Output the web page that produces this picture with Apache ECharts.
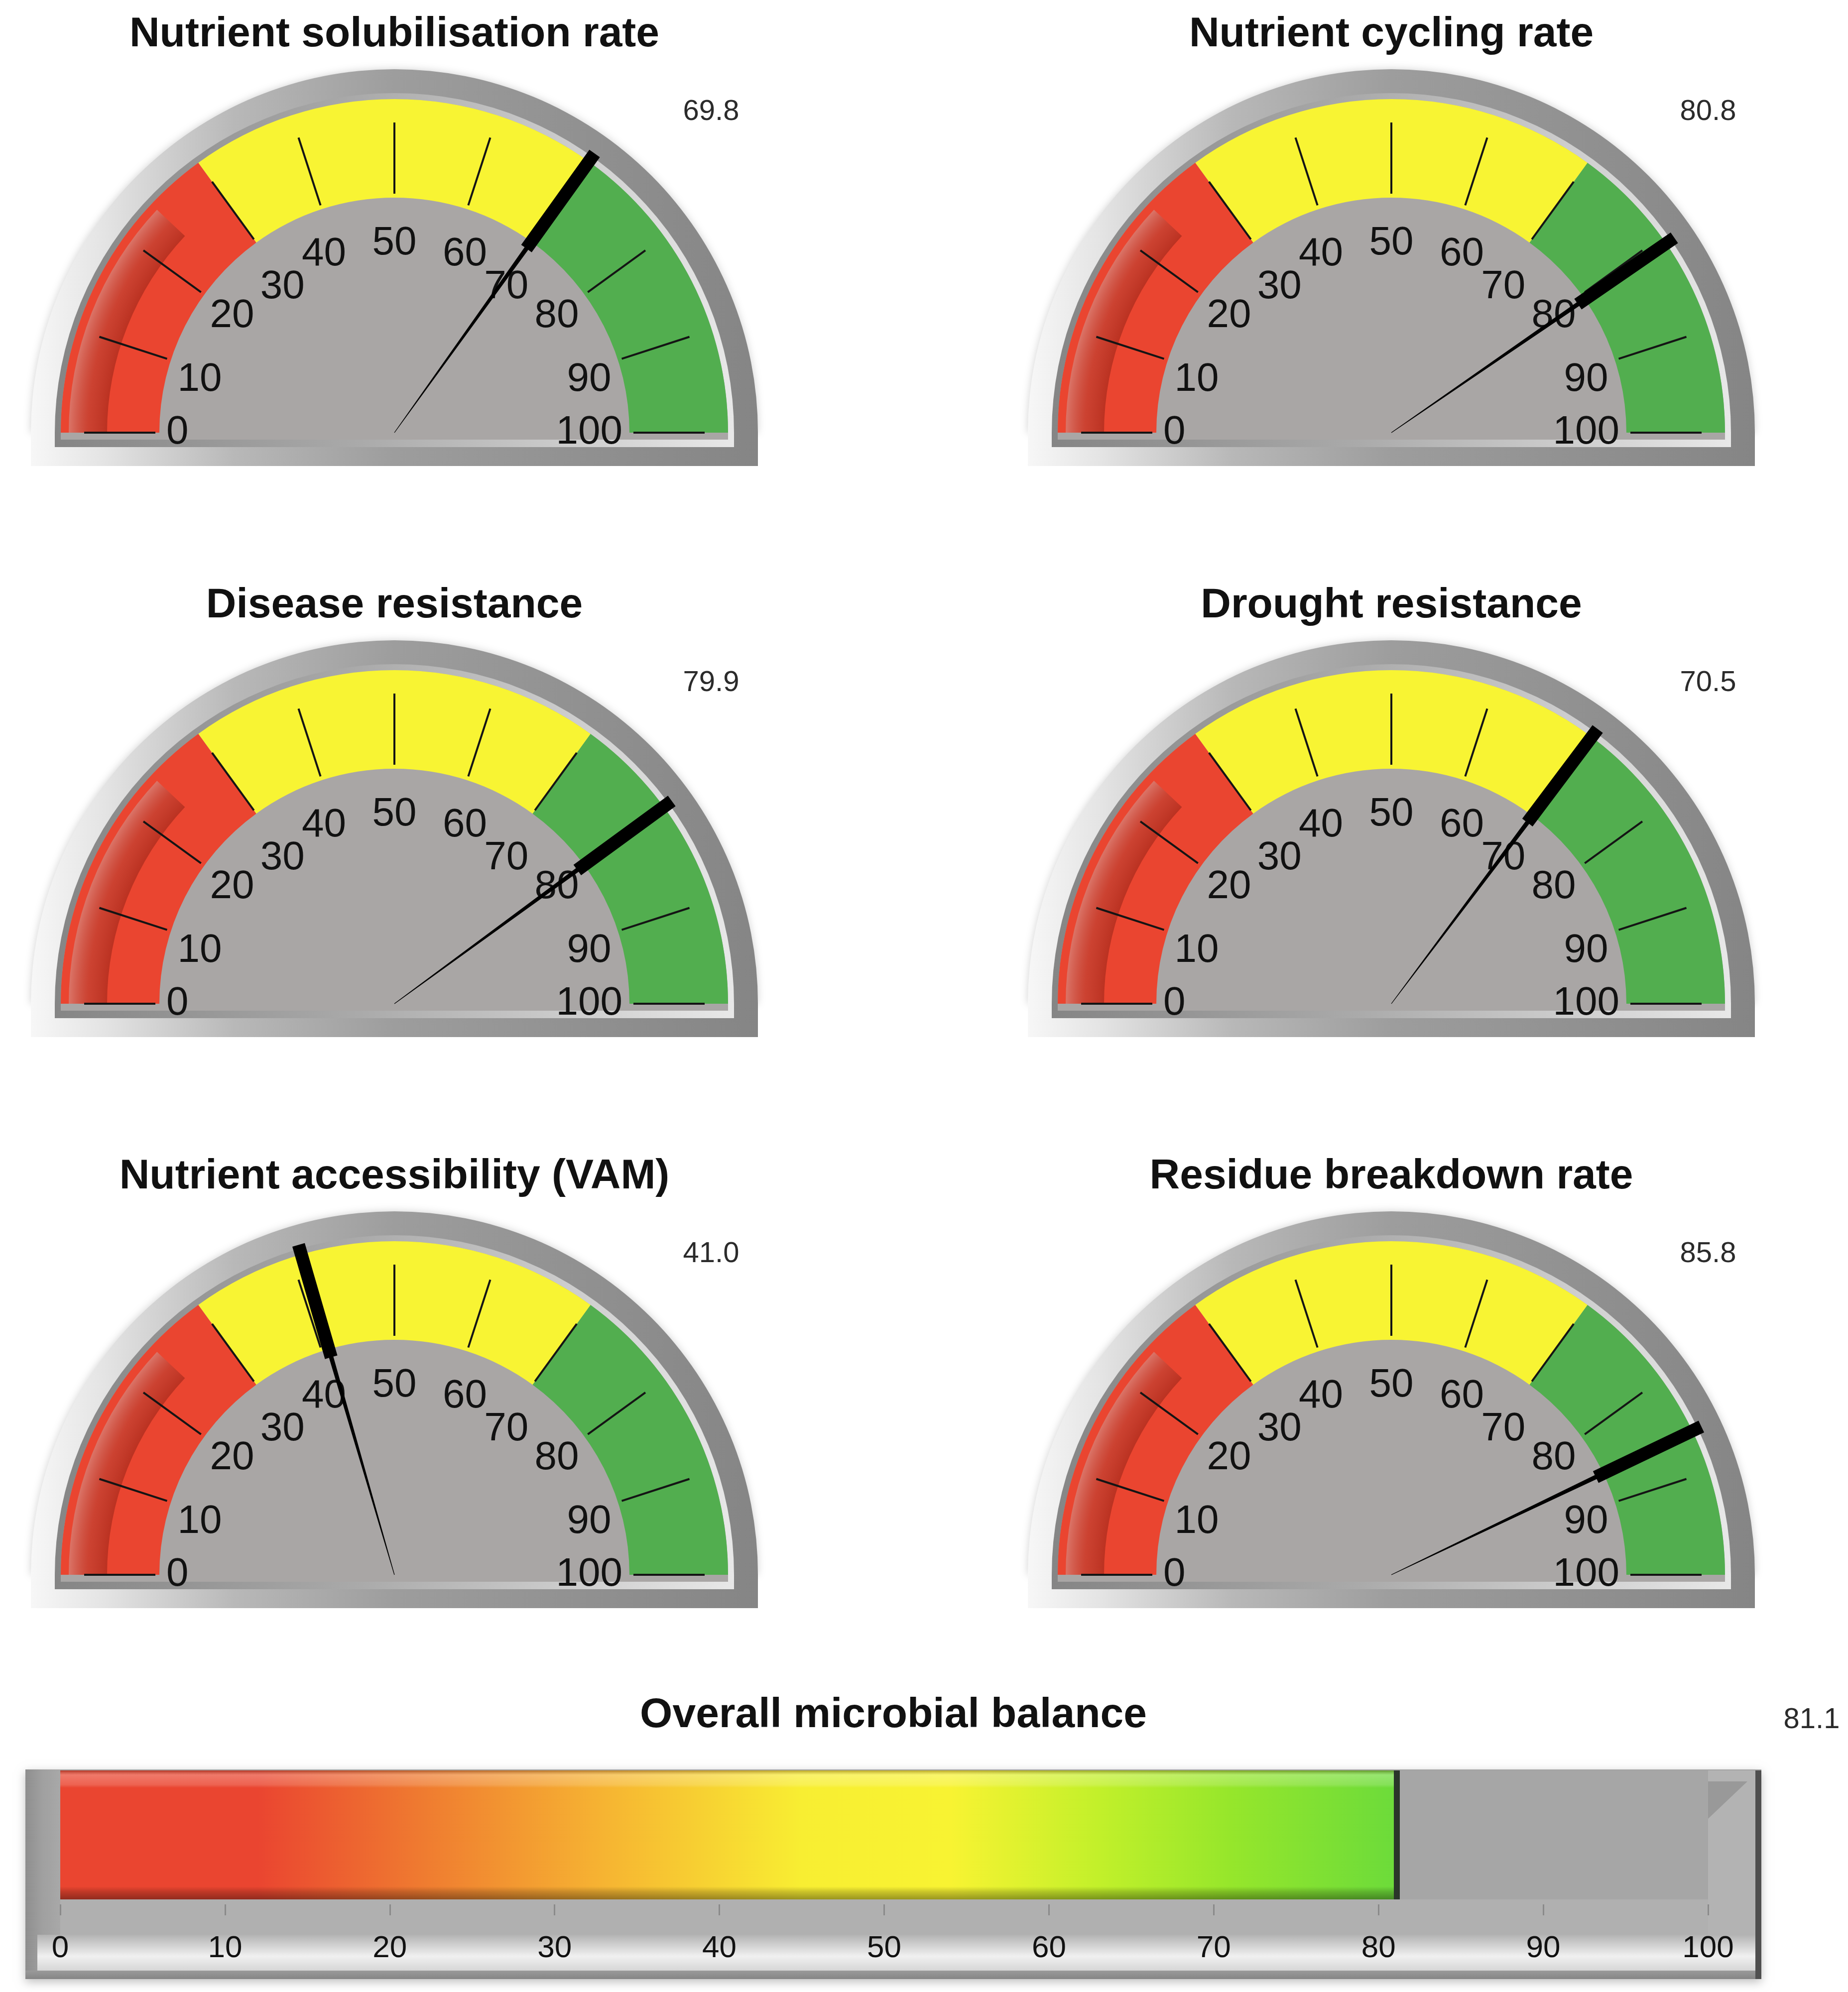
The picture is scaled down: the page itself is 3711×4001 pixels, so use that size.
<!DOCTYPE html>
<html>
<head>
<meta charset="utf-8">
<title>Soil microbial indicators</title>
<script src="https://cdn.jsdelivr.net/npm/echarts@6/dist/echarts.min.js"></script>
<style>
  html, body { margin: 0; padding: 0; background: #ffffff; }
  #chart { width: 3711px; height: 4001px; }
</style>
</head>
<body>
<div id="chart"></div>
<script>
// ---- data ----
const gaugeTitles = [
  'Nutrient solubilisation rate',
  'Nutrient cycling rate',
  'Disease resistance',
  'Drought resistance',
  'Nutrient accessibility (VAM)',
  'Residue breakdown rate'
];
const gaugeValues = [69.8, 80.8, 79.9, 70.5, 41.0, 85.8];
const zoneBreaks = [30, 70];            // red | yellow | green boundaries
const scaleMin = 0;
const scaleMax = 100;
const scaleStep = 10;                    // tick labels 0, 10, ... 100
const balanceTitle = 'Overall microbial balance';
const balanceValue = [81.1];

// ---- styling / layout ----
const FONT = "'Liberation Sans', Arial, Helvetica, sans-serif";
const RED = '#ea4530', YELLOW = '#f8f433', GREEN = '#52ae4f', DIAL = '#a9a6a5';
const colX = [792, 2794];
const rowY = [869, 2016, 3163];
const R_BAND = 670, BAND_W = 198, R_RING = 682, R_FRAME = 730, BASE_H = 68;
const NEEDLE = 'path://M0 0L26 0L26 235L17.5 235L13.6 690L12.4 690L8.5 235L0 235Z';

const span = scaleMax - scaleMin;
const frac = v => (v - scaleMin) / span;

function hGrad(x0, x1, stops) {
  return {
    type: 'linear', x: x0, y: 0, x2: x1, y2: 0, global: true,
    colorStops: stops.map(s => ({ offset: s[0], color: s[1] }))
  };
}
function vGrad(y0, y1, stops) {
  return {
    type: 'linear', x: 0, y: y0, x2: 0, y2: y1, global: true,
    colorStops: stops.map(s => ({ offset: s[0], color: s[1] }))
  };
}

// bezel, inner ring, dial face and base plate behind each gauge
function gaugeFrame(cx, cy) {
  const outer = hGrad(cx - R_FRAME, cx + R_FRAME,
    [[0, '#f7f7f7'], [0.1, '#e4e4e4'], [0.28, '#b8b8b8'], [0.5, '#9d9d9d'], [1, '#858585']]);
  const ring = hGrad(cx - R_RING, cx + R_RING,
    [[0, '#858585'], [0.45, '#aaaaaa'], [1, '#e8e8e8']]);
  const half = { startAngle: Math.PI, endAngle: Math.PI * 2, clockwise: true };
  return [
    { type: 'sector', z: 0, silent: true,
      shape: Object.assign({ cx: cx, cy: cy, r: R_FRAME, r0: 0 }, half),
      style: { fill: outer, shadowBlur: 16, shadowColor: 'rgba(0,0,0,0.18)' } },
    { type: 'rect', z: 0.05, silent: true,
      shape: { x: cx - R_FRAME, y: cy - 1, width: 2 * R_FRAME, height: BASE_H },
      style: { fill: outer } },
    { type: 'sector', z: 0.1, silent: true,
      shape: Object.assign({ cx: cx, cy: cy, r: R_RING, r0: 0 }, half),
      style: { fill: ring } },
    { type: 'rect', z: 0.15, silent: true,
      shape: { x: cx - R_RING, y: cy - 1, width: 2 * R_RING, height: 30 },
      style: { fill: ring } },
    { type: 'sector', z: 0.2, silent: true,
      shape: Object.assign({ cx: cx, cy: cy, r: R_BAND, r0: 0 }, half),
      style: { fill: DIAL } },
    { type: 'rect', z: 0.25, silent: true,
      shape: { x: cx - R_BAND, y: cy - 1, width: 2 * R_BAND, height: 15 },
      style: { fill: DIAL } }
  ];
}

const hiddenParts = {
  progress: { show: false }, splitLine: { show: false }, axisTick: { show: false },
  axisLabel: { show: false }, pointer: { show: false }, anchor: { show: false },
  title: { show: false }, detail: { show: false }
};

// scale numbers: upper ones sit a little lower in the dial, side ones a bit lower still
function scaleLabel(v) {
  if (v === scaleMin || v === scaleMax) return '{end|' + v + '}';
  if (v >= 30 && v <= 70) return '{upper|' + v + '}';
  return '{side|' + v + '}';
}
const labelText = { fontSize: 80, fontFamily: FONT, color: '#111111' };

function gaugeSeries(i) {
  const cx = colX[i % 2], cy = rowY[Math.floor(i / 2)];
  const common = {
    type: 'gauge', center: [cx, cy], startAngle: 180, endAngle: 0,
    min: scaleMin, max: scaleMax, splitNumber: span / scaleStep, silent: true
  };
  // coloured zones
  const band = Object.assign({}, common, hiddenParts, {
    radius: R_BAND,
    axisLine: { show: true, lineStyle: { width: BAND_W, color: [
      [frac(zoneBreaks[0]), RED], [frac(zoneBreaks[1]), YELLOW], [1, GREEN]
    ] } },
    data: []
  });
  // shaded reflection on the low end of the dial
  const shade = Object.assign({}, common, hiddenParts, {
    radius: 654,
    axisLine: { show: true, lineStyle: { width: 77, color: [
      [0.24, { type: 'radial', x: cx, y: cy, r: 654, global: true, colorStops: [
        { offset: 0.88, color: 'rgba(120,22,12,0.42)' },
        { offset: 0.94, color: 'rgba(150,60,50,0.36)' },
        { offset: 1, color: 'rgba(205,160,155,0.52)' }
      ] }],
      [1, 'rgba(0,0,0,0)']
    ] } },
    data: []
  });
  // scale, needle, title and value readout
  const main = Object.assign({}, common, {
    radius: R_BAND,
    progress: { show: false },
    axisLine: { show: false, lineStyle: { width: BAND_W } },
    splitLine: { show: true, distance: -151, length: 143, lineStyle: { color: '#141414', width: 4 } },
    axisTick: { show: false },
    axisLabel: {
      show: true, distance: 220, color: '#111111', fontSize: 80, fontFamily: FONT,
      formatter: scaleLabel,
      rich: {
        end: Object.assign({}, labelText),
        upper: Object.assign({ padding: [38, 0, 0, 0] }, labelText),
        side: Object.assign({ padding: [70, 0, 0, 0] }, labelText)
      }
    },
    pointer: { show: true, icon: NEEDLE, length: 690, width: 26, offsetCenter: [0, 0],
               itemStyle: { color: '#000000' } },
    anchor: { show: false },
    title: { show: true, offsetCenter: [0, -799], color: '#111111', fontSize: 84,
             fontWeight: 'bold', fontFamily: FONT },
    detail: { show: true, offsetCenter: [636, -644], formatter: v => v.toFixed(1),
              color: '#2b2b2b', fontSize: 58, fontWeight: 'normal', fontFamily: FONT,
              backgroundColor: 'rgba(0,0,0,0)' },
    data: [{ name: gaugeTitles[i], value: gaugeValues[i] }]
  });
  return [band, shade, main];
}

// ---- horizontal balance bar ----
const G_LEFT = 121, G_RIGHT = 3430, G_TOP = 3556, G_BOTTOM = 3815;
const barStops = [
  [0, '#ea4530'], [12, '#ea4530'], [22, '#ef7b30'], [33, '#f6b432'], [45, '#f8ee32'],
  [54, '#f8f332'], [63, '#c2f02a'], [71, '#96e62b'], [81, '#6cdb3a'], [100, '#48c83c']
];
const barFill = hGrad(G_LEFT, G_RIGHT, barStops.map(s => [s[0] / 100, s[1]]));
const barShine = {
  type: 'linear', x: 0, y: 0, x2: 0, y2: 1,
  colorStops: [
    { offset: 0, color: 'rgba(70,30,20,0.35)' },
    { offset: 0.035, color: 'rgba(255,255,255,0.28)' },
    { offset: 0.11, color: 'rgba(255,255,255,0.16)' },
    { offset: 0.135, color: 'rgba(255,255,255,0)' },
    { offset: 0.9, color: 'rgba(0,0,0,0)' },
    { offset: 0.94, color: 'rgba(0,0,0,0.18)' },
    { offset: 1, color: 'rgba(0,0,0,0.38)' }
  ]
};

function barFrame() {
  return [
    { type: 'rect', z: 0, silent: true,
      shape: { x: 51, y: 3554, width: 3486, height: 421 },
      style: { fill: '#a3a3a3', shadowBlur: 18, shadowOffsetY: 6, shadowColor: 'rgba(0,0,0,0.25)' } },
    { type: 'rect', z: 0.1, silent: true,
      shape: { x: 51, y: 3554, width: 70, height: 404 },
      style: { fill: hGrad(51, 121, [[0, '#8e8e8e'], [0.5, '#a0a0a0'], [1, '#a8a8a8']]) } },
    { type: 'rect', z: 0.1, silent: true,
      shape: { x: G_LEFT, y: G_TOP, width: G_RIGHT - G_LEFT, height: G_BOTTOM - G_TOP },
      style: { fill: '#a6a6a6' } },
    { type: 'rect', z: 0.1, silent: true,
      shape: { x: G_LEFT, y: G_BOTTOM, width: 3525 - G_LEFT, height: 71 },
      style: { fill: '#b0b0b0' } },
    { type: 'rect', z: 0.1, silent: true,
      shape: { x: 75, y: 3886, width: 3450, height: 72 },
      style: { fill: vGrad(3886, 3958, [[0, '#b3b3b3'], [0.6, '#f0f0f0'], [1, '#d6d6d6']]) } },
    { type: 'rect', z: 0.1, silent: true,
      shape: { x: 51, y: 3958, width: 3486, height: 17 },
      style: { fill: vGrad(3958, 3975, [[0, '#9a9a9a'], [1, '#858585']]) } },
    { type: 'rect', z: 0.1, silent: true,
      shape: { x: G_RIGHT, y: G_TOP, width: 95, height: 330 },
      style: { fill: '#b3b3b3' } },
    { type: 'polygon', z: 0.15, silent: true,
      shape: { points: [[G_RIGHT, 3578], [3509, 3578], [G_RIGHT, 3653]] },
      style: { fill: '#999999' } },
    { type: 'rect', z: 0.15, silent: true,
      shape: { x: 3525, y: 3556, width: 12, height: 419 },
      style: { fill: '#4f4f4f' } }
  ];
}

// ---- assemble ----
let graphics = [];
gaugeValues.forEach((v, i) => {
  graphics = graphics.concat(gaugeFrame(colX[i % 2], rowY[Math.floor(i / 2)]));
});
graphics = graphics.concat(barFrame());

let series = [];
gaugeValues.forEach((v, i) => { series = series.concat(gaugeSeries(i)); });

series.push({
  type: 'bar', data: balanceValue, barWidth: '100%', z: 3,
  itemStyle: { color: barFill },
  label: {
    show: true, position: [3517, -101], align: 'center', verticalAlign: 'middle',
    formatter: p => p.value.toFixed(1), color: '#2b2b2b', fontSize: 58, fontFamily: FONT
  }
});
series.push({
  type: 'bar', data: balanceValue, barWidth: '100%', barGap: '-100%', z: 4,
  itemStyle: { color: barShine },
  markLine: {
    silent: true, symbol: 'none', label: { show: false },
    lineStyle: { color: '#2a352a', width: 12, type: 'solid' },
    data: [{ xAxis: balanceValue[0] }]
  }
});

const chart = echarts.init(document.getElementById('chart'), null, { renderer: 'canvas' });
chart.setOption({
  animation: false,
  backgroundColor: '#ffffff',
  textStyle: { fontFamily: FONT },
  title: [{
    text: balanceTitle, left: 1794, top: 3404, textAlign: 'center', padding: 0,
    textStyle: { fontSize: 84, fontWeight: 'bold', color: '#111111', fontFamily: FONT }
  }],
  graphic: { elements: graphics },
  grid: { left: G_LEFT, top: G_TOP, width: G_RIGHT - G_LEFT, height: G_BOTTOM - G_TOP, containLabel: false },
  xAxis: {
    type: 'value', min: scaleMin, max: scaleMax, interval: scaleStep, offset: 10, z: 10,
    axisLine: { show: false },
    axisTick: { show: true, length: 22, lineStyle: { color: '#8a8a8a', width: 3 } },
    splitLine: { show: false },
    axisLabel: { margin: 58, color: '#111111', fontSize: 62, fontFamily: FONT }
  },
  yAxis: { type: 'category', data: [balanceTitle], show: false },
  series: series
});
</script>
</body>
</html>
